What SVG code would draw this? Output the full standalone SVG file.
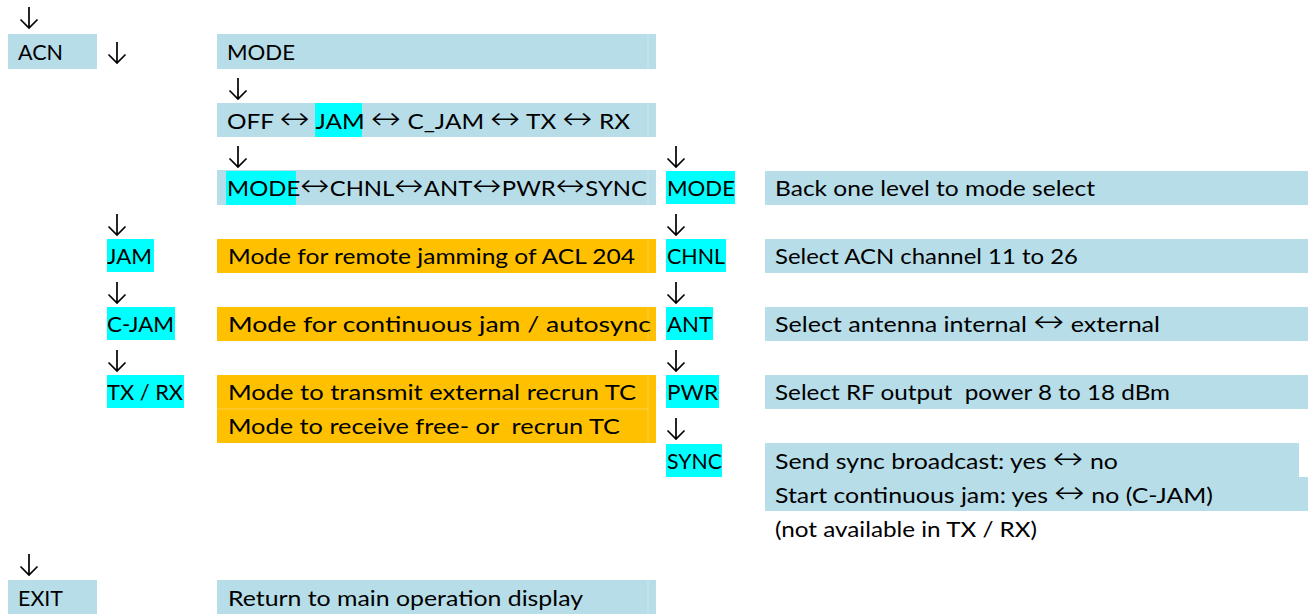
<svg xmlns="http://www.w3.org/2000/svg" width="1316" height="614" viewBox="0 0 1316 614">
<defs>
<path id="dn" d="M9 0V21M0.5 12.5L9 21L17.5 12.5" fill="none" stroke="#000" stroke-width="1.7"/>
</defs>
<style>
text{font-family:Lato,"Open Sans","DejaVu Sans",sans-serif;font-size:21px;fill:#000}
.a{font-family:"DejaVu Sans",sans-serif;font-size:31px;font-weight:300;fill:#000}
.b{fill:#B7DDE8}
.o{fill:#FFC000}
.h{fill:#00FFFF}
.sb{stroke:#CBE6EE;stroke-width:1}
.so{stroke:#FFD04D;stroke-width:1}
</style>
<rect width="1316" height="614" fill="#fff"/>
<g id="connectors">
<use href="#dn" x="20" y="7"/>
<use href="#dn" x="108" y="42"/>
<use href="#dn" x="229" y="78"/>
<use href="#dn" x="229" y="146"/>
<use href="#dn" x="667" y="146"/>
<use href="#dn" x="108" y="214"/>
<use href="#dn" x="667" y="214"/>
<use href="#dn" x="108" y="282"/>
<use href="#dn" x="667" y="282"/>
<use href="#dn" x="108" y="350"/>
<use href="#dn" x="667" y="350"/>
<use href="#dn" x="667" y="418"/>
<use href="#dn" x="20" y="554"/>
</g>
<g id="acn">
<rect class="b" x="8" y="34" width="89" height="35"/>
<text x="18" y="60" textLength="45" lengthAdjust="spacingAndGlyphs">ACN</text>
</g>
<g id="mode">
<rect class="b" x="217" y="34" width="439" height="35"/>
<line class="sb" x1="648" y1="34" x2="648" y2="69"/>
<text x="227" y="60" textLength="68" lengthAdjust="spacingAndGlyphs">MODE</text>
</g>
<g id="mode-select">
<rect class="b" x="217" y="103" width="439" height="34"/>
<line class="sb" x1="648" y1="103" x2="648" y2="137"/>
<rect class="h" x="315" y="103" width="47" height="34"/>
<text x="227" y="129" textLength="403" lengthAdjust="spacingAndGlyphs">OFF <tspan class="a">↔</tspan> JAM <tspan class="a">↔</tspan> C_JAM <tspan class="a">↔</tspan> TX <tspan class="a">↔</tspan> RX</text>
</g>
<g id="submenu">
<rect class="b" x="217" y="170" width="439" height="35"/>
<line class="sb" x1="648" y1="170" x2="648" y2="205"/>
<rect class="h" x="226" y="171" width="70" height="34"/>
<text x="227" y="196" textLength="420" lengthAdjust="spacingAndGlyphs">MODE<tspan class="a">↔</tspan>CHNL<tspan class="a">↔</tspan>ANT<tspan class="a">↔</tspan>PWR<tspan class="a">↔</tspan>SYNC</text>
</g>
<g id="sub-mode">
<rect class="h" x="666" y="171" width="69" height="33"/>
<text x="667" y="196" textLength="68" lengthAdjust="spacingAndGlyphs">MODE</text>
</g>
<g id="sub-mode-desc">
<rect class="b" x="765" y="171" width="543" height="34"/>
<text x="775" y="196" textLength="320" lengthAdjust="spacingAndGlyphs">Back one level to mode select</text>
</g>
<g id="jam">
<rect class="h" x="107" y="239" width="47" height="33"/>
<text x="107" y="264" textLength="45" lengthAdjust="spacingAndGlyphs">JAM</text>
</g>
<g id="jam-desc">
<rect class="o" x="217" y="239" width="439" height="34"/>
<line class="so" x1="648" y1="239" x2="648" y2="273"/>
<text x="228" y="264" textLength="407" lengthAdjust="spacingAndGlyphs">Mode for remote jamming of ACL 204</text>
</g>
<g id="chnl">
<rect class="h" x="666" y="239" width="60" height="33"/>
<text x="667" y="264" textLength="58" lengthAdjust="spacingAndGlyphs">CHNL</text>
</g>
<g id="chnl-desc">
<rect class="b" x="765" y="239" width="543" height="34"/>
<text x="775" y="264" textLength="303" lengthAdjust="spacingAndGlyphs">Select ACN channel 11 to 26</text>
</g>
<g id="cjam">
<rect class="h" x="107" y="307" width="68" height="33"/>
<text x="107" y="332" textLength="67" lengthAdjust="spacingAndGlyphs">C-JAM</text>
</g>
<g id="cjam-desc">
<rect class="o" x="217" y="307" width="439" height="34"/>
<line class="so" x1="648" y1="307" x2="648" y2="341"/>
<text x="228" y="332" textLength="423" lengthAdjust="spacingAndGlyphs">Mode for continuous jam / autosync</text>
</g>
<g id="ant">
<rect class="h" x="666" y="307" width="47" height="33"/>
<text x="667" y="332" textLength="45" lengthAdjust="spacingAndGlyphs">ANT</text>
</g>
<g id="ant-desc">
<rect class="b" x="765" y="307" width="543" height="34"/>
<text x="775" y="332" textLength="385" lengthAdjust="spacingAndGlyphs">Select antenna internal <tspan class="a">↔</tspan> external</text>
</g>
<g id="txrx">
<rect class="h" x="107" y="375" width="77" height="33"/>
<text x="107" y="400" textLength="76" lengthAdjust="spacingAndGlyphs">TX / RX</text>
</g>
<g id="txrx-desc">
<rect class="o" x="217" y="375" width="439" height="68"/>
<line class="so" x1="648" y1="375" x2="648" y2="443"/>
<line class="so" x1="217" y1="409" x2="648" y2="409"/>
<text x="228" y="400" textLength="408" lengthAdjust="spacingAndGlyphs">Mode to transmit external recrun TC</text>
<text x="228" y="434" textLength="392" lengthAdjust="spacingAndGlyphs" xml:space="preserve">Mode to receive free- or  recrun TC</text>
</g>
<g id="pwr">
<rect class="h" x="666" y="375" width="53" height="33"/>
<text x="667" y="400" textLength="51" lengthAdjust="spacingAndGlyphs">PWR</text>
</g>
<g id="pwr-desc">
<rect class="b" x="765" y="375" width="543" height="34"/>
<text x="775" y="400" textLength="395" lengthAdjust="spacingAndGlyphs" xml:space="preserve">Select RF output  power 8 to 18 dBm</text>
</g>
<g id="sync">
<rect class="h" x="666" y="444" width="56" height="33"/>
<text x="667" y="469" textLength="55" lengthAdjust="spacingAndGlyphs">SYNC</text>
</g>
<g id="sync-desc">
<rect class="b" x="765" y="443" width="534" height="35"/>
<rect class="b" x="765" y="477" width="543" height="34"/>
<text x="775" y="469" textLength="343" lengthAdjust="spacingAndGlyphs">Send sync broadcast: yes <tspan class="a">↔</tspan> no</text>
<text x="775" y="503" textLength="438" lengthAdjust="spacingAndGlyphs">Start continuous jam: yes <tspan class="a">↔</tspan> no (C-JAM)</text>
<text x="775" y="537" textLength="262" lengthAdjust="spacingAndGlyphs">(not available in TX / RX)</text>
</g>
<g id="exit">
<rect class="b" x="8" y="580" width="89" height="34"/>
<text x="18" y="606" textLength="45" lengthAdjust="spacingAndGlyphs">EXIT</text>
</g>
<g id="exit-desc">
<rect class="b" x="217" y="580" width="439" height="34"/>
<line class="sb" x1="648" y1="580" x2="648" y2="614"/>
<text x="228" y="606" textLength="355" lengthAdjust="spacingAndGlyphs">Return to main operation display</text>
</g>
</svg>
